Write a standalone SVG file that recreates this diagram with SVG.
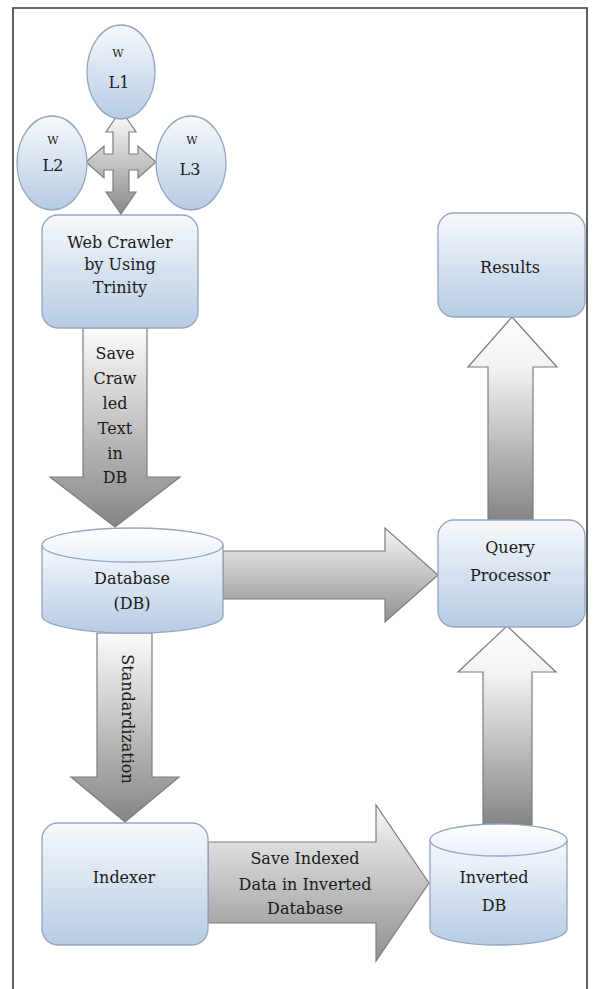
<svg xmlns="http://www.w3.org/2000/svg" width="598" height="989" viewBox="0 0 598 989">
<style>
.t{font-family:"DejaVu Serif","Liberation Serif",serif;font-size:16px;fill:#1a1a1a;text-anchor:middle}
.ts{font-family:"DejaVu Serif","Liberation Serif",serif;font-size:11px;fill:#1a1a1a;text-anchor:middle}
.box{fill:url(#gBox);stroke:#93a6bf;stroke-width:1.3}
.cyl{fill:url(#gBox);stroke:#93a6bf;stroke-width:1.3}
.cyltop{fill:url(#gTop);stroke:#93a6bf;stroke-width:1.3}
.arr{stroke:#7d7d7d;stroke-width:1.2}
</style>
<defs>
<linearGradient id="gBox" x1="0" y1="0" x2="0" y2="1">
<stop offset="0" stop-color="#f6f9fc"/><stop offset="1" stop-color="#b7cbe4"/>
</linearGradient>
<linearGradient id="gTop" x1="0" y1="0" x2="0" y2="1">
<stop offset="0" stop-color="#ffffff"/><stop offset="1" stop-color="#e8eff8"/>
</linearGradient>
<linearGradient id="gDown" x1="0" y1="0" x2="0" y2="1">
<stop offset="0" stop-color="#fcfcfc"/><stop offset="1" stop-color="#858585"/>
</linearGradient>
<linearGradient id="gUp" x1="0" y1="0" x2="0" y2="1">
<stop offset="0" stop-color="#ffffff"/><stop offset="0.25" stop-color="#f2f2f2"/><stop offset="1" stop-color="#858585"/>
</linearGradient>
<linearGradient id="gRight" x1="0" y1="0" x2="0" y2="1">
<stop offset="0" stop-color="#f7f7f7"/><stop offset="1" stop-color="#8f8f8f"/>
</linearGradient>
<linearGradient id="gCross" x1="0" y1="0" x2="0" y2="1">
<stop offset="0" stop-color="#ffffff"/><stop offset="1" stop-color="#8a8a8a"/>
</linearGradient>
</defs>
<rect width="598" height="989" fill="#ffffff"/>
<path d="M13 989 V8 H587 V989" fill="none" stroke="#3a3a3a" stroke-width="1.6"/>

<g id="connectors">
<path class="arr" fill="url(#gCross)" d="M121 110 L136 132 L129 132 L129 154 L138 154 L138 146 L156 162 L138 178 L138 170 L129 170 L129 192 L136 192 L121 214 L106 192 L113 192 L113 170 L104 170 L104 178 L86 162 L104 146 L104 154 L113 154 L113 132 L106 132 Z"/>
<path class="arr" fill="url(#gDown)" d="M83 328 H147 V477 H180 L115 527 L50 477 H83 Z"/>
<path class="arr" fill="url(#gDown)" d="M97 633 H152 V777 H179 L125 822 L71 777 H97 Z"/>
<path class="arr" fill="url(#gRight)" d="M223 551 H385 V528 L438 575 L385 622 V599 H223 Z"/>
<path class="arr" fill="url(#gRight)" d="M208 842 H376 V805 L429 883 L376 961 V923 H208 Z"/>
<path class="arr" fill="url(#gUp)" d="M488 520 V367 H468 L512 317 L557 367 H533 V520 Z"/>
<path class="arr" fill="url(#gUp)" d="M483 825 V672 H458 L507 626 L556 672 H532 V825 Z"/>
<text class="t" x="115" y="359">Save</text>
<text class="t" x="115" y="384">Craw</text>
<text class="t" x="115" y="409">led</text>
<text class="t" x="115" y="434">Text</text>
<text class="t" x="115" y="459">in</text>
<text class="t" x="115" y="483">DB</text>
<text class="t" transform="translate(122 719) rotate(90)">Standardization</text>
<text class="t" x="305" y="864">Save Indexed</text>
<text class="t" x="305" y="890">Data in Inverted</text>
<text class="t" x="305" y="914">Database</text>
</g>

<g id="wl1">
<ellipse cx="121" cy="72" rx="34" ry="47" class="box"/>
<text class="ts" x="118" y="57">W</text>
<text class="t" x="119" y="88">L1</text>
</g>
<g id="wl2">
<ellipse cx="52" cy="163" rx="35" ry="47" class="box"/>
<text class="ts" x="53" y="144">W</text>
<text class="t" x="53" y="171">L2</text>
</g>
<g id="wl3">
<ellipse cx="191" cy="163" rx="35" ry="47" class="box"/>
<text class="ts" x="192" y="144">W</text>
<text class="t" x="190" y="175">L3</text>
</g>

<g id="webcrawler">
<rect x="42" y="215" width="156" height="113" rx="16" class="box"/>
<text class="t" x="120" y="248">Web Crawler</text>
<text class="t" x="120" y="270">by Using</text>
<text class="t" x="120" y="293">Trinity</text>
</g>

<g id="database">
<path class="cyl" d="M42 545 V616 A90.5 17 0 0 0 223 616 V545"/>
<ellipse class="cyltop" cx="132.5" cy="545" rx="90.5" ry="17"/>
<text class="t" x="132" y="584">Database</text>
<text class="t" x="132" y="609">(DB)</text>
</g>

<g id="indexer">
<rect x="42" y="823" width="166" height="122" rx="16" class="box"/>
<text class="t" x="124" y="883">Indexer</text>
</g>

<g id="inverteddb">
<path class="cyl" d="M430 840 V929 A68.5 16 0 0 0 567 929 V840"/>
<ellipse class="cyltop" cx="498.5" cy="840" rx="68.5" ry="16"/>
<text class="t" x="494" y="883">Inverted</text>
<text class="t" x="494" y="911">DB</text>
</g>

<g id="queryprocessor">
<rect x="438" y="520" width="147" height="107" rx="16" class="box"/>
<text class="t" x="510" y="553">Query</text>
<text class="t" x="510" y="581">Processor</text>
</g>

<g id="results">
<rect x="438" y="213" width="147" height="104" rx="16" class="box"/>
<text class="t" x="510" y="273">Results</text>
</g>
</svg>
